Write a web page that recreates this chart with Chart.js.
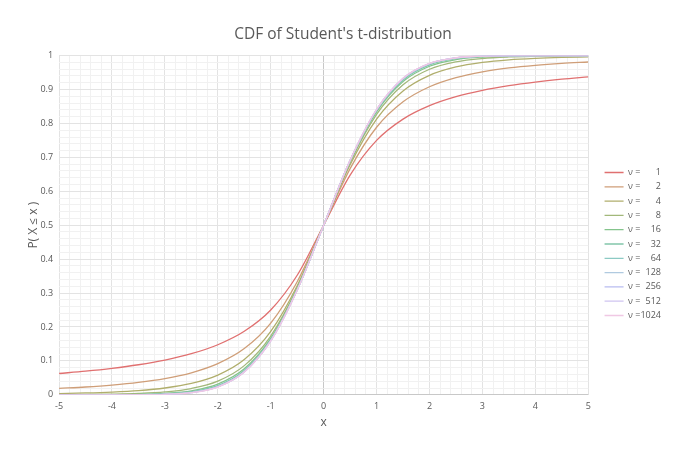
<!DOCTYPE html>
<html>
<head>
<meta charset="utf-8">
<script src="https://cdn.jsdelivr.net/npm/chart.js@4.4.1/dist/chart.umd.min.js"></script>
<style>
  html, body { margin: 0; padding: 0; background: #fff; }
  #wrap { width: 680px; height: 454px; }
</style>
</head>
<body>
<div id="wrap"><canvas id="chart"></canvas></div>
<script>
// x positions of the sampled points
var xValues = [-5, -4.5, -4, -3.5, -3, -2.5, -2, -1.5, -1, -0.5, 0, 0.5, 1, 1.5, 2, 2.5, 3, 3.5, 4, 4.5, 5];

// degrees of freedom shown in the legend
var nuValues = [1, 2, 4, 8, 16, 32, 64, 128, 256, 512, 1024];

// P(X <= x), one row per nu
var cdf1    = [0.0628, 0.0696, 0.0780, 0.0886, 0.1024, 0.1211, 0.1476, 0.1872, 0.2500, 0.3524, 0.5, 0.6476, 0.7500, 0.8128, 0.8524, 0.8789, 0.8976, 0.9114, 0.9220, 0.9304, 0.9372];
var cdf2    = [0.0189, 0.0230, 0.0286, 0.0364, 0.0477, 0.0648, 0.0918, 0.1362, 0.2113, 0.3333, 0.5, 0.6667, 0.7887, 0.8638, 0.9082, 0.9352, 0.9523, 0.9636, 0.9714, 0.9770, 0.9811];
var cdf4    = [0.0037, 0.0054, 0.0081, 0.0124, 0.0200, 0.0334, 0.0581, 0.1040, 0.1870, 0.3217, 0.5, 0.6783, 0.8130, 0.8960, 0.9419, 0.9666, 0.9800, 0.9876, 0.9919, 0.9946, 0.9963];
var cdf8    = [0.0005, 0.0010, 0.0020, 0.0040, 0.0085, 0.0185, 0.0403, 0.0860, 0.1733, 0.3153, 0.5, 0.6847, 0.8267, 0.9140, 0.9597, 0.9815, 0.9915, 0.9960, 0.9980, 0.9990, 0.9995];
var cdf16   = [0.0001, 0.0002, 0.0005, 0.0015, 0.0042, 0.0118, 0.0314, 0.0765, 0.1661, 0.3119, 0.5, 0.6881, 0.8339, 0.9235, 0.9686, 0.9882, 0.9958, 0.9985, 0.9995, 0.9998, 0.9999];
var cdf32   = [0.0000, 0.0001, 0.0002, 0.0007, 0.0026, 0.0090, 0.0271, 0.0717, 0.1624, 0.3102, 0.5, 0.6898, 0.8376, 0.9283, 0.9729, 0.9910, 0.9974, 0.9993, 0.9998, 0.9999, 1.0000];
var cdf64   = [0.0000, 0.0000, 0.0001, 0.0004, 0.0020, 0.0076, 0.0249, 0.0692, 0.1605, 0.3094, 0.5, 0.6906, 0.8395, 0.9308, 0.9751, 0.9924, 0.9980, 0.9996, 0.9999, 1.0000, 1.0000];
var cdf128  = [0.0000, 0.0000, 0.0000, 0.0003, 0.0017, 0.0069, 0.0239, 0.0680, 0.1596, 0.3089, 0.5, 0.6911, 0.8404, 0.9320, 0.9761, 0.9931, 0.9983, 0.9997, 1.0000, 1.0000, 1.0000];
var cdf256  = [0.0000, 0.0000, 0.0000, 0.0002, 0.0015, 0.0065, 0.0233, 0.0674, 0.1591, 0.3087, 0.5, 0.6913, 0.8409, 0.9326, 0.9767, 0.9935, 0.9985, 0.9998, 1.0000, 1.0000, 1.0000];
var cdf512  = [0.0000, 0.0000, 0.0000, 0.0002, 0.0014, 0.0064, 0.0231, 0.0671, 0.1589, 0.3086, 0.5, 0.6914, 0.8411, 0.9329, 0.9769, 0.9936, 0.9986, 0.9998, 1.0000, 1.0000, 1.0000];
var cdf1024 = [0.0000, 0.0000, 0.0000, 0.0002, 0.0014, 0.0063, 0.0229, 0.0669, 0.1588, 0.3085, 0.5, 0.6915, 0.8412, 0.9331, 0.9771, 0.9937, 0.9986, 0.9998, 1.0000, 1.0000, 1.0000];

var seriesValues = [cdf1, cdf2, cdf4, cdf8, cdf16, cdf32, cdf64, cdf128, cdf256, cdf512, cdf1024];

var lineColors = ['#e07070', '#cf9e78', '#b0ae6c', '#a2b87a', '#84c48c', '#82c6aa', '#8ccac4', '#b0cae0', '#b8bcf0', '#cfc4f0', '#f0c8e4'];

var textColor = '#595959';
var fontFamily = "'Open Sans', 'Noto Sans', sans-serif";

function isStep(v, step) {
  var r = v / step;
  return Math.abs(r - Math.round(r)) < 1e-6;
}

// legend text, number right aligned with figure spaces
function nuLabel(n) {
  var s = String(n);
  while (s.length < 4) s = '\u2007' + s;
  return '\u03bd =' + s;
}

var datasets = nuValues.map(function (nu, i) {
  return {
    label: nuLabel(nu),
    data: xValues.map(function (x, j) { return { x: x, y: seriesValues[i][j] }; }),
    borderColor: lineColors[i],
    backgroundColor: lineColors[i],
    borderWidth: 1.3,
    pointRadius: 0,
    fill: false,
    cubicInterpolationMode: 'monotone'
  };
});

// draw later series first so the low nu curves sit on top
datasets.reverse();

// nudge the legend box a little right and down, like the original
var legendShift = {
  id: 'legendShift',
  afterLayout: function (chart) {
    var lg = chart.legend;
    if (!lg) return;
    lg.left += 11; lg.right += 11;
    lg.top += 29; lg.bottom += 29;
  }
};

var ctx = document.getElementById('chart').getContext('2d');
var myChart = new Chart(ctx, {
  type: 'line',
  data: { datasets: datasets },
  plugins: [legendShift],
  options: {
    responsive: true,
    maintainAspectRatio: false,
    animation: false,
    layout: { padding: { left: 26, right: 20, top: 0, bottom: 24 } },
    plugins: {
      title: {
        display: true,
        text: "CDF of Student's t-distribution",
        color: textColor,
        font: { family: fontFamily, size: 15.5, weight: 'normal' },
        padding: { top: 25, bottom: 12 }
      },
      legend: {
        position: 'right',
        reverse: true,
        labels: {
          color: textColor,
          font: { family: fontFamily, size: 9 },
          usePointStyle: true,
          pointStyle: 'line',
          pointStyleWidth: 19,
          boxWidth: 19,
          padding: 5.3
        }
      },
      tooltip: { enabled: false }
    },
    scales: {
      x: {
        type: 'linear',
        min: -5,
        max: 5,
        title: {
          display: true,
          text: 'x',
          color: textColor,
          font: { family: fontFamily, size: 12 },
          padding: { top: -2, bottom: 0 }
        },
        ticks: {
          stepSize: 0.2,
          autoSkip: false,
          maxRotation: 0,
          color: textColor,
          font: { family: fontFamily, size: 9 },
          padding: 6,
          callback: function (v) { return isStep(v, 1) ? String(Math.round(v)) : ''; }
        },
        grid: {
          drawTicks: false,
          color: function (c) {
            var v = c.tick.value;
            if (Math.abs(v) < 1e-6) return '#c8c8c8';
            return isStep(v, 1) ? '#e3e3e3' : '#f1f1f1';
          }
        },
        border: { display: false }
      },
      y: {
        type: 'linear',
        min: 0,
        max: 1,
        title: {
          display: true,
          text: 'P( X \u2264 x )',
          color: textColor,
          font: { family: fontFamily, size: 12 },
          padding: { top: 0, bottom: -6 }
        },
        ticks: {
          stepSize: 0.02,
          autoSkip: false,
          color: textColor,
          font: { family: fontFamily, size: 9 },
          padding: 6,
          callback: function (v) { return isStep(v, 0.1) ? String(Math.round(v * 10) / 10) : ''; }
        },
        grid: {
          drawTicks: false,
          color: function (c) {
            var v = c.tick.value;
            if (Math.abs(v) < 1e-6) return '#c8c8c8';
            return isStep(v, 0.1) ? '#e3e3e3' : '#f1f1f1';
          }
        },
        border: { display: false }
      }
    }
  }
});
</script>
</body>
</html>
